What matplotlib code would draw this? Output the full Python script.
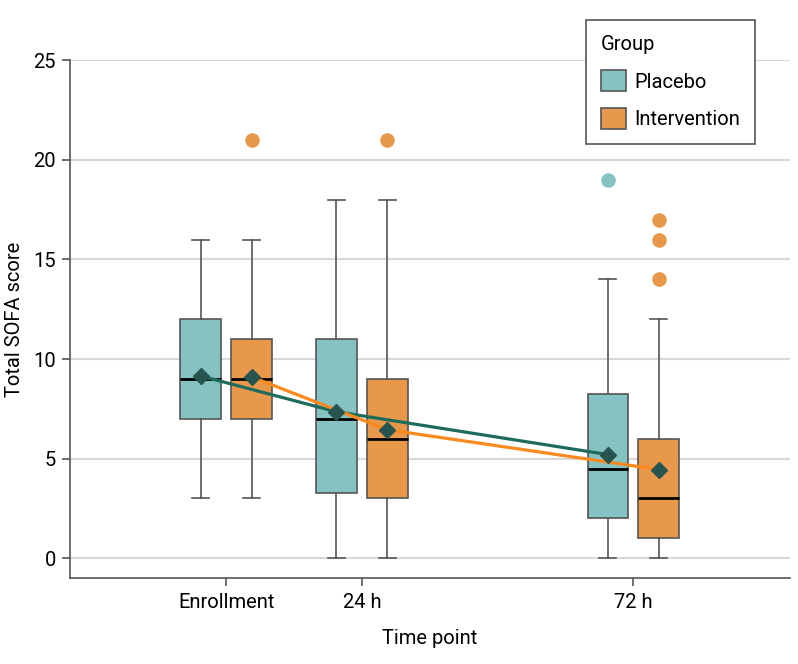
import matplotlib.pyplot as plt
from matplotlib.patches import Patch

plt.rcParams['font.family'] = ['Roboto', 'DejaVu Sans']

# time points (hours) and labels
times = [0, 24, 72]
time_labels = ["Enrollment", "24 h", "72 h"]
groups = ["Placebo", "Intervention"]

# box summaries: [low whisker, q1, median, q3, high whisker]
placebo_stats = [[3, 7, 9, 12, 16], [0, 3.25, 7, 11, 18], [0, 2, 4.5, 8.25, 14]]
interv_stats = [[3, 7, 9, 11, 16], [0, 3, 6, 9, 18], [0, 1, 3, 6, 12]]
placebo_means = [9.15, 7.35, 5.2]
interv_means = [9.1, 6.45, 4.45]
placebo_fliers = [[], [], [19]]
interv_fliers = [[21], [21], [17, 16, 14]]

fill_cols = {"Placebo": "#84c3c1", "Intervention": "#e8984a"}
line_cols = {"Placebo": "#1e6b5c", "Intervention": "#fb8a1e"}
diamond_col = "#285450"
offset = 4.5
box_w = 7.2

fig = plt.figure(figsize=(7.98, 6.64), dpi=100)
ax = fig.add_axes([0.0877, 0.1295, 0.9023, 0.7796])

for gi, (name, stats, means, fliers) in enumerate([
        ("Placebo", placebo_stats, placebo_means, placebo_fliers),
        ("Intervention", interv_stats, interv_means, interv_fliers)]):
    sgn = -1 if gi == 0 else 1
    pos = [t + sgn * offset for t in times]
    bxp_stats = []
    for s, f in zip(stats, fliers):
        bxp_stats.append(dict(whislo=s[0], q1=s[1], med=s[2], q3=s[3], whishi=s[4], fliers=f))
    ax.bxp(bxp_stats, positions=pos, widths=box_w, capwidths=3.0,
           patch_artist=True, manage_ticks=False,
           boxprops=dict(facecolor=fill_cols[name], edgecolor="#555555", linewidth=1.2),
           medianprops=dict(color="black", linewidth=2),
           whiskerprops=dict(color="#555555", linewidth=1.2),
           capprops=dict(color="#555555", linewidth=1.2),
           flierprops=dict(marker="o", markersize=10.5, markerfacecolor=fill_cols[name],
                           markeredgecolor="none"),
           zorder=2)
    ax.plot(pos, means, color=line_cols[name], linewidth=2.3, zorder=3)
    ax.plot(pos, means, linestyle="none", marker="D", markersize=8.5,
            color=diamond_col, zorder=4)

ax.set_xlim(-27.6, 99.7)
ax.set_ylim(-1, 25)
ax.set_yticks([0, 5, 10, 15, 20, 25])
ax.set_xticks(times)
ax.set_xticklabels(time_labels)
ax.yaxis.grid(True, color="#d9d9d9", linewidth=1.5, zorder=0)
ax.set_axisbelow(True)

for sp in ["top", "right"]:
    ax.spines[sp].set_visible(False)
for sp in ["left", "bottom"]:
    ax.spines[sp].set_color("#555555")
    ax.spines[sp].set_linewidth(1.2)
ax.tick_params(axis="both", labelsize=14.5, color="#555555", width=1.2, length=6)
ax.tick_params(axis="y", pad=4)
ax.tick_params(axis="x", pad=5)

ax.set_xlabel("Time point", fontsize=14.5, labelpad=12)
ax.set_ylabel("Total SOFA score", fontsize=14.5, labelpad=7)

handles = [Patch(facecolor=fill_cols[g], edgecolor="#555555", linewidth=1.2) for g in groups]
leg = ax.legend(handles, groups, title="Group", loc="upper left",
                bbox_to_anchor=(0.7343, 0.9699), bbox_transform=fig.transFigure,
                borderaxespad=0,
                fontsize=14.5, title_fontsize=14.5, frameon=True, fancybox=False,
                edgecolor="#555555", framealpha=1, alignment="left",
                handlelength=1.25, handleheight=1.25, handletextpad=0.4,
                borderpad=0.75, labelspacing=0.8)
leg.get_frame().set_linewidth(1.2)

fig.savefig("out.png", dpi=100)
